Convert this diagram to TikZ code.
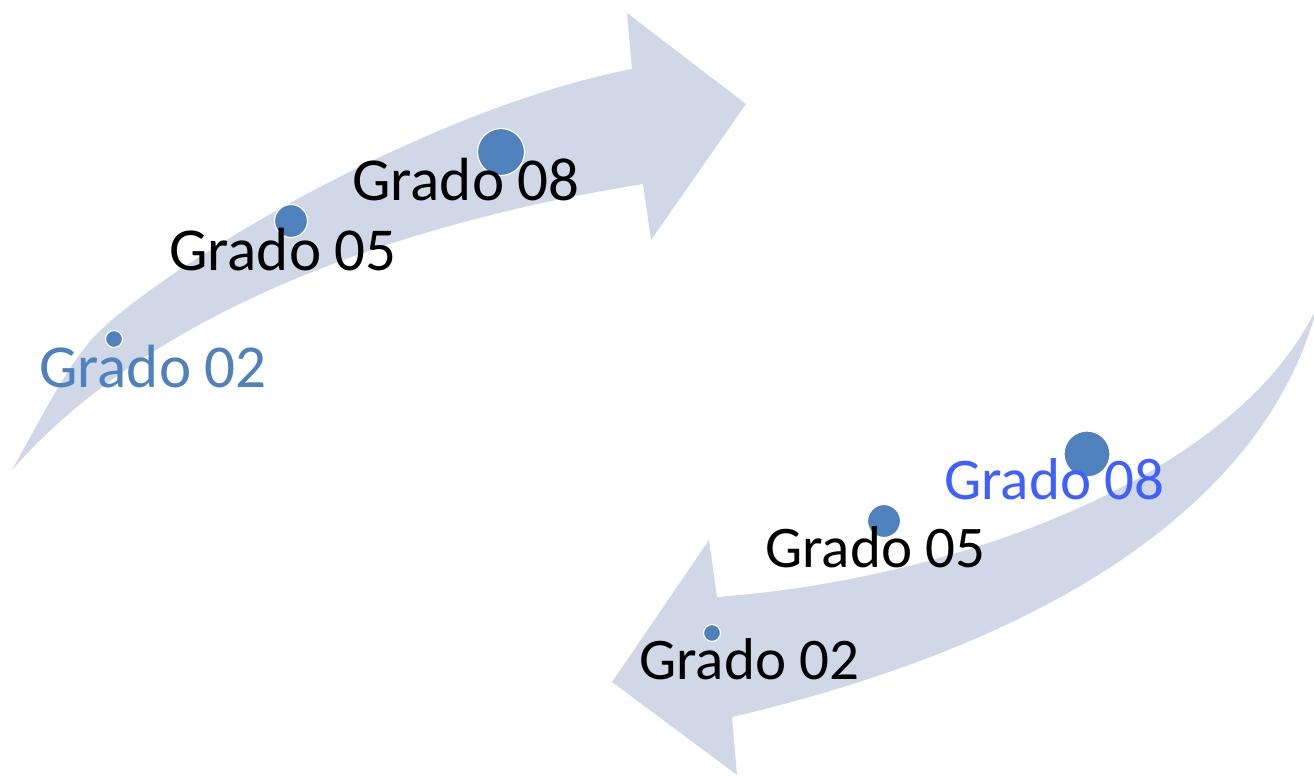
\documentclass[tikz,border=0pt]{standalone}
\usepackage{fontspec}
\setmainfont{Carlito}
\definecolor{bandcol}{HTML}{D0D8E8}
\definecolor{dotcol}{HTML}{4F81BD}
\definecolor{lblA}{HTML}{4F81BD}
\definecolor{lblB}{HTML}{3F5FFF}
\tikzset{
  bandfill/.style={fill=bandcol},
  gdot/.style={circle, fill=dotcol, draw=white, line width=1.2pt, inner sep=0pt},
  labA/.style={anchor=base west, inner sep=0pt, font=\fontsize{61}{72}\selectfont},
  labB/.style={anchor=base west, inner sep=0pt, font=\fontsize{59}{70}\selectfont}
}
\begin{document}
\begin{tikzpicture}[x=1pt,y=-1pt]
\useasboundingbox (0,0) rectangle (1314,776);
% upper arrow
\coordinate (ua0) at (12,470);
\coordinate (uam) at (92,339);
\coordinate (ua1) at (632,69);
\coordinate (ua2) at (643,184);
\fill[bandfill] (ua0) .. controls (40,420) and (65,370) .. (uam)
  .. controls (150,275) and (420,110) .. (ua1)
  -- (627,13) -- (746,104) -- (651,240) -- (ua2)
  .. controls (450,215) and (170,290) .. (ua0) -- cycle;
% lower arrow
\coordinate (la0) at (1314,313);
\coordinate (la1) at (717,597);
\coordinate (la2) at (732,717);
\coordinate (la3) at (1314,318);
\fill[bandfill] (la0) .. controls (1230,480) and (950,580) .. (la1)
  -- (709,540) -- (612,682) -- (737,775) -- (la2)
  .. controls (1060,640) and (1260,500) .. (la3) -- cycle;
% dots
\node[gdot, minimum size=17pt] (d1) at (114,339) {};
\node[gdot, minimum size=33pt] (d2) at (291,221) {};
\node[gdot, minimum size=47pt] (d3) at (501,152) {};
\node[gdot, minimum size=17pt] (d4) at (712,633) {};
\node[gdot, minimum size=33pt] (d5) at (884,521) {};
\node[gdot, minimum size=46pt] (d6) at (1087,454) {};
% labels
\node[labA, text=lblA] (l1) at (39,387) {Grado 02};
\node[labA] (l2) at (169,270) {Grado 05};
\node[labA] (l3) at (352,200) {Grado 08};
\node[labB] (l4) at (639,679) {Grado 02};
\node[labB] (l5) at (765,567) {Grado 05};
\node[labB, text=lblB] (l6) at (944,499) {Grado 08};
\end{tikzpicture}
\end{document}
